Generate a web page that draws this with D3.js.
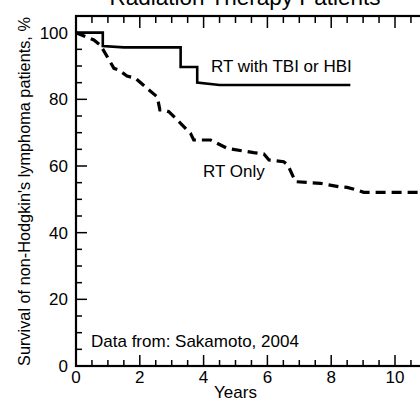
<!DOCTYPE html>
<html>
<head>
<meta charset="utf-8">
<script src="https://cdn.jsdelivr.net/npm/d3@7"></script>
<style>
  html, body { margin: 0; padding: 0; background: #fff; overflow: hidden; }
  svg { display: block; font-family: "Liberation Sans", Arial, sans-serif; }
</style>
</head>
<body>
<div id="chart"></div>
<script>
// RT with TBI or HBI (solid)
const tbiYears = [0, 0.84, 0.84, 1.5, 3.28, 3.28, 3.8, 3.8, 4.5, 8.6];
const tbiSurvival = [100, 100, 96, 95.6, 95.6, 89.7, 89.7, 85, 84.3, 84.3];

// RT only (dashed)
const rtYears = [0, 0.56, 0.77, 1.19, 1.34, 1.6, 1.87, 2.23, 2.55, 2.63, 2.75, 2.91, 3.28, 3.59, 3.69,
    4.22, 4.74, 5.57, 5.89, 6.05, 6.51, 6.64, 6.88, 7.66, 8.24, 8.5, 8.81, 9.02, 12];
const rtSurvival = [100, 97.8, 96.2, 89.3, 88.8, 87, 86.3, 83.3, 80.7, 76.8, 76.8, 76.3, 72.8, 69.8, 67.8,
    67.8, 65.3, 64, 63.6, 61.8, 61.3, 60.3, 55.3, 54.8, 53.8, 53.6, 52.8, 52.1, 52.1];

// labels visible inside the window (the plot runs on past the right edge)
const xMajorTicks = [0, 2, 4, 6, 8, 10];
const yMajorTicks = [0, 20, 40, 60, 80, 100];

const width = 420, height = 408;
const margin = {left: 76, top: 16, bottom: 42};

const svg = d3.select('#chart').append('svg')
    .attr('width', width)
    .attr('height', height);

const x = d3.scaleLinear().domain([0, 12]).range([margin.left, margin.left + 12 * 31.9]);
const y = d3.scaleLinear().domain([0, 105]).range([height - margin.bottom, margin.top]);

const x0 = x(0), x1 = x(12), yTop = y(105), yBot = y(0);

// frame
svg.append('rect')
    .attr('x', x0).attr('y', yTop)
    .attr('width', x1 - x0).attr('height', yBot - yTop)
    .attr('fill', 'none').attr('stroke', '#000').attr('stroke-width', 2.2);

// ticks, all pointing inward
const xMinor = d3.range(0, 12.01, 0.5);
const yMinor = d3.range(0, 105.01, 5);
const ticks = svg.append('g').attr('stroke', '#000').attr('stroke-width', 1.5);

ticks.selectAll('.xb').data(xMinor).enter().append('line')
    .attr('x1', d => x(d)).attr('x2', d => x(d))
    .attr('y1', yBot).attr('y2', d => yBot - (d % 2 === 0 ? 11 : 6));
ticks.selectAll('.xt').data(xMinor).enter().append('line')
    .attr('x1', d => x(d)).attr('x2', d => x(d))
    .attr('y1', yTop).attr('y2', d => yTop + (d % 2 === 0 ? 12 : 7));
ticks.selectAll('.yl').data(yMinor).enter().append('line')
    .attr('y1', d => y(d)).attr('y2', d => y(d))
    .attr('x1', x0).attr('x2', d => x0 + (d % 20 === 0 ? 11 : 6));

// tick labels
svg.append('g').selectAll('text').data(xMajorTicks).enter().append('text')
    .attr('x', d => x(d)).attr('y', yBot + 17)
    .attr('text-anchor', 'middle').attr('font-size', 17)
    .text(d => d);

svg.append('g').selectAll('text').data(yMajorTicks).enter().append('text')
    .attr('x', x0 - 8).attr('y', d => y(d)).attr('dy', '0.35em')
    .attr('text-anchor', 'end').attr('font-size', 17)
    .text(d => d);

// axis titles
svg.append('text')
    .attr('x', x(5)).attr('y', 398)
    .attr('text-anchor', 'middle').attr('font-size', 17)
    .text('Years');

svg.append('text')
    .attr('transform', `translate(30,${(378 + 5) / 2}) rotate(-90)`)
    .attr('text-anchor', 'middle').attr('font-size', 16.3)
    .text("Survival of non-Hodgkin's lymphoma patients, %");

svg.append('text')
    .attr('x', 245).attr('y', 5)
    .attr('text-anchor', 'middle').attr('font-size', 22.5)
    .text('Radiation Therapy Patients');

// curves
const line = d3.line().x(d => x(d[0])).y(d => y(d[1]));

svg.append('path')
    .datum(d3.zip(tbiYears, tbiSurvival))
    .attr('d', line)
    .attr('fill', 'none').attr('stroke', '#000').attr('stroke-width', 2.6);

svg.append('path')
    .datum(d3.zip(rtYears, rtSurvival))
    .attr('d', line)
    .attr('fill', 'none').attr('stroke', '#000').attr('stroke-width', 3.2)
    .attr('stroke-dasharray', '10,6');

// annotations
svg.append('text').attr('x', 211).attr('y', 72).attr('font-size', 17).text('RT with TBI or HBI');
svg.append('text').attr('x', 203).attr('y', 177).attr('font-size', 17).text('RT Only');
svg.append('text').attr('x', 91).attr('y', 347).attr('font-size', 17).text('Data from: Sakamoto, 2004');
</script>
</body>
</html>
